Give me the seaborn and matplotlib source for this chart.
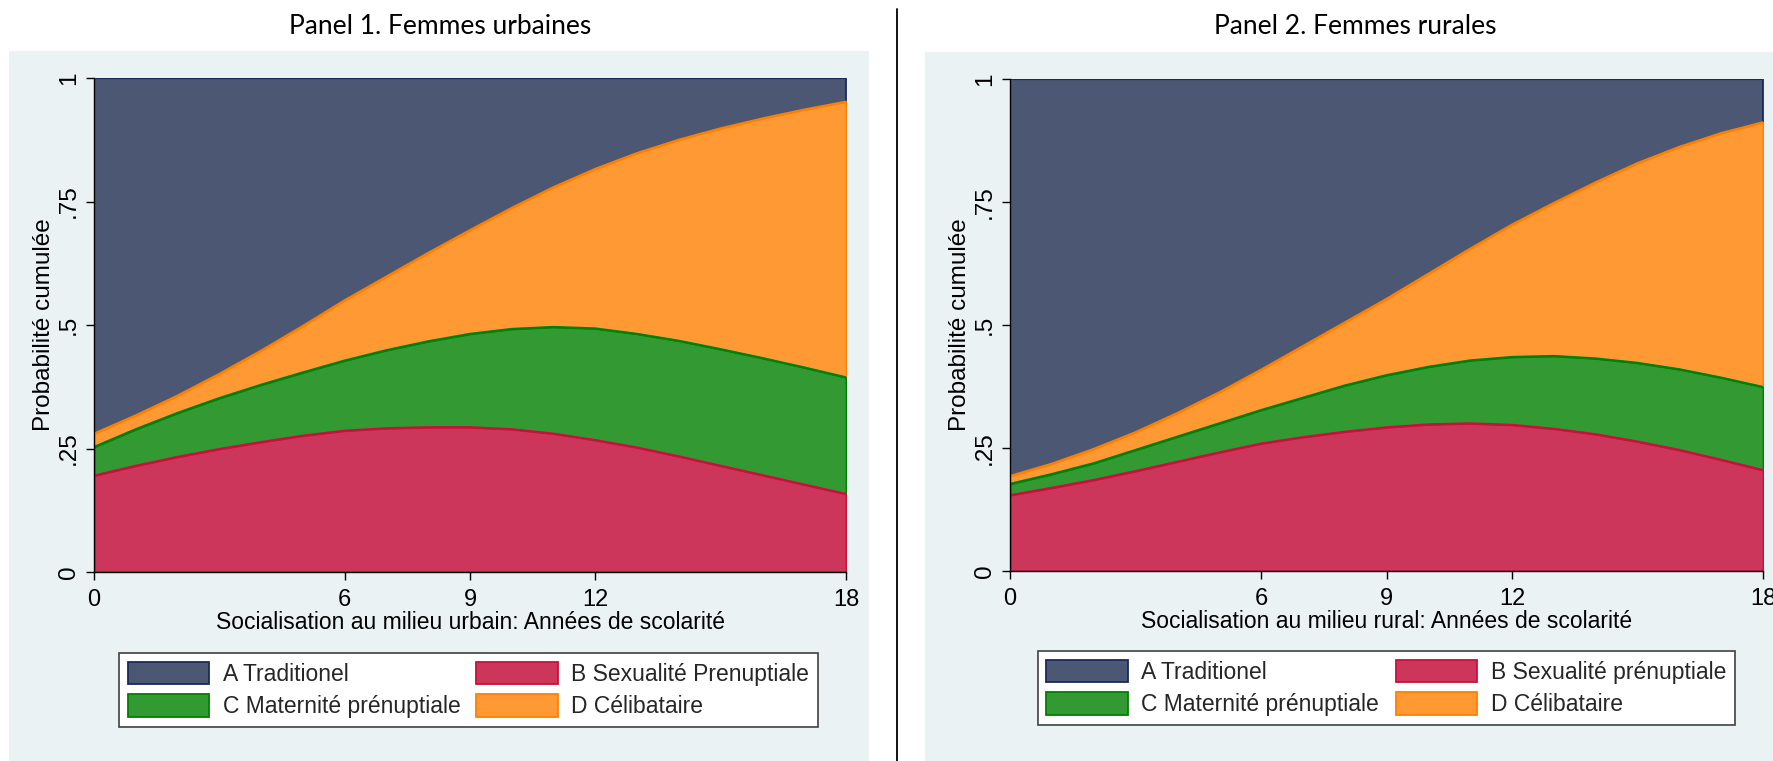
import matplotlib
matplotlib.use("Agg")
import matplotlib.pyplot as plt
import seaborn as sns
import pandas as pd
from matplotlib.patches import Rectangle, Patch
from matplotlib.lines import Line2D

# Years of schooling
years = list(range(0, 19))

# Panel 1 (urban women): cumulative probability at the top of each band
urb_sexualite = [0.195, 0.215, 0.233, 0.249, 0.263, 0.276, 0.286, 0.291, 0.293, 0.293,
                 0.289, 0.280, 0.267, 0.252, 0.234, 0.215, 0.196, 0.177, 0.158]
urb_maternite = [0.253, 0.289, 0.322, 0.352, 0.379, 0.404, 0.428, 0.449, 0.467, 0.482,
                 0.492, 0.496, 0.493, 0.482, 0.468, 0.451, 0.433, 0.414, 0.394]
urb_celibataire = [0.280, 0.317, 0.357, 0.401, 0.448, 0.498, 0.550, 0.598, 0.646, 0.692,
                   0.737, 0.779, 0.816, 0.848, 0.875, 0.898, 0.918, 0.936, 0.952]
urb_traditionel = [1.0] * 19

# Panel 2 (rural women)
rur_sexualite = [0.154, 0.169, 0.185, 0.203, 0.222, 0.241, 0.259, 0.272, 0.283, 0.292,
                 0.298, 0.300, 0.297, 0.289, 0.278, 0.263, 0.246, 0.226, 0.205]
rur_maternite = [0.177, 0.197, 0.219, 0.246, 0.273, 0.300, 0.327, 0.352, 0.377, 0.398,
                 0.415, 0.428, 0.435, 0.437, 0.432, 0.423, 0.410, 0.393, 0.374]
rur_celibataire = [0.193, 0.218, 0.248, 0.282, 0.321, 0.363, 0.409, 0.457, 0.505, 0.553,
                   0.604, 0.655, 0.704, 0.748, 0.790, 0.829, 0.862, 0.890, 0.912]
rur_traditionel = [1.0] * 19

x_ticks = [0, 6, 9, 12, 18]
y_ticks = [0, 0.25, 0.5, 0.75, 1]
y_ticklabels = ["0", ".25", ".5", ".75", "1"]

titles = ["Panel 1. Femmes urbaines", "Panel 2. Femmes rurales"]
xlabels = ["Socialisation au milieu urbain: Années de scolarité",
           "Socialisation au milieu rural: Années de scolarité"]
ylabel = "Probabilité cumulée"
legend_labels = [
    {"A": "A Traditionel", "B": "B Sexualité Prenuptiale",
     "C": "C Maternité prénuptiale", "D": "D Célibataire"},
    {"A": "A Traditionel", "B": "B Sexualité prénuptiale",
     "C": "C Maternité prénuptiale", "D": "D Célibataire"},
]

fill = {"A": "#4C5774", "B": "#CC365B", "C": "#339933", "D": "#FF9933"}
edge = {"A": "#1A2A5A", "B": "#C8103A", "C": "#008000", "D": "#FF8000"}

sns.set_theme(style="white")
sans = ["Liberation Sans", "DejaVu Sans"]
plt.rcParams["font.family"] = sans

W, H = 1773, 761
fig = plt.figure(figsize=(W / 100, H / 100), dpi=100)
fig.patch.set_facecolor("white")

bg = "#EAF2F3"
fig.add_artist(Rectangle((8.6 / W, 0), (869 - 8.6) / W, (H - 51) / H,
                         transform=fig.transFigure, facecolor=bg, edgecolor="none", zorder=0))
fig.add_artist(Rectangle((925 / W, 0), (W - 925) / W, (H - 52) / H,
                         transform=fig.transFigure, facecolor=bg, edgecolor="none", zorder=0))
fig.add_artist(Line2D([897 / W, 897 / W], [0, (H - 9) / H], transform=fig.transFigure,
                      color="black", lw=1.3))

panels = [
    dict(rect=(94 / W, (H - 572) / H, 752 / W, 494 / H),
         data=dict(A=urb_traditionel, B=urb_sexualite, C=urb_maternite, D=urb_celibataire),
         title_x=440, legend=(119, 653, 818, 733)),
    dict(rect=(1010 / W, (H - 571) / H, 753 / W, 492 / H),
         data=dict(A=rur_traditionel, B=rur_sexualite, C=rur_maternite, D=rur_celibataire),
         title_x=1355, legend=(1037.5, 651, 1735, 731)),
]

for i, p in enumerate(panels):
    ax = fig.add_axes(p["rect"])
    ax.set_facecolor("none")
    df = pd.DataFrame({"annees": years, **p["data"]})
    # Bands are drawn from zero upwards, widest first, so each covers the previous one
    for key in ["A", "D", "C", "B"]:
        ax.fill_between(df["annees"], 0, df[key], facecolor=fill[key],
                        edgecolor=edge[key], linewidth=1.3, zorder=2)
        sns.lineplot(data=df, x="annees", y=key, ax=ax, color=edge[key],
                     linewidth=1.6, legend=False, zorder=3)
    ax.set_xlim(0, 18)
    ax.set_ylim(0, 1)
    ax.margins(0)
    ax.set_xticks(x_ticks)
    ax.set_xticklabels([str(t) for t in x_ticks], fontsize=17)
    ax.set_yticks(y_ticks)
    ax.set_yticklabels(y_ticklabels, rotation=90, va="center", fontsize=17.5)
    ax.tick_params(axis="both", which="major", direction="out", length=6, width=1,
                   color="black", labelcolor="black", bottom=True, left=True)
    ax.tick_params(axis="x", pad=6)
    ax.tick_params(axis="y", pad=4)
    for s in ["top", "right"]:
        ax.spines[s].set_visible(False)
    for s in ["left", "bottom"]:
        ax.spines[s].set_color("black")
        ax.spines[s].set_linewidth(1)
        ax.spines[s].set_zorder(4)
    ax.set_xlabel(xlabels[i], fontsize=16.5, labelpad=0, color="black")
    ax.set_ylabel(ylabel, fontsize=17.5, labelpad=2, color="black")

    fig.text(p["title_x"] / W, 1 - 27 / H, titles[i], ha="center", va="center",
             fontsize=19, family=["Lato", "DejaVu Sans"], color="black")

    # Column-major order gives rows A | B and C | D
    order = ["A", "C", "B", "D"]
    handles = [Patch(facecolor=fill[k], edgecolor=edge[k], linewidth=1.3) for k in order]
    labels = [legend_labels[i][k] for k in order]
    x0, y0, x1, y1 = p["legend"]
    leg = ax.legend(handles, labels, ncol=2, loc="upper left",
                    bbox_to_anchor=(x0 / W, 1 - y1 / H, (x1 - x0) / W, (y1 - y0) / H),
                    bbox_transform=fig.transFigure, mode="expand", fontsize=16.5,
                    frameon=True, fancybox=False, edgecolor="#404040", facecolor="white",
                    framealpha=1, handlelength=3.55, handleheight=1.13, handletextpad=0.6,
                    labelspacing=0.38, borderpad=0.38, borderaxespad=0, columnspacing=1.0)
    leg.get_frame().set_linewidth(1.2)

fig.savefig("out.png", dpi=100, facecolor="white")
